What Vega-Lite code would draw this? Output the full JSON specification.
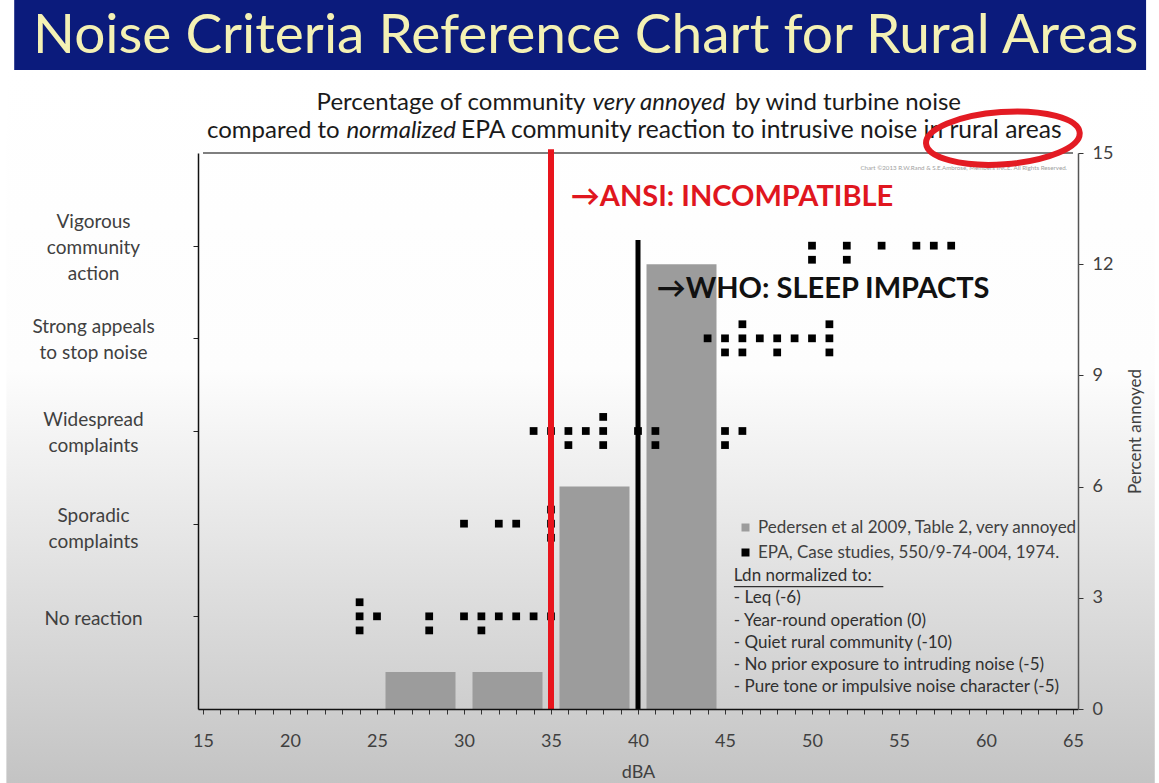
{
  "$schema": "https://vega.github.io/schema/vega-lite/v6.json",
  "width": 880,
  "height": 556,
  "autosize": "none",
  "padding": {"left": 198, "top": 153, "right": 81, "bottom": 74},
  "background": "#ffffff",
  "data": {"values": [{}]},
  "config": {
    "font": "Lato",
    "view": {"stroke": null, "fill": null},
    "axis": {"grid": false, "labelColor": "#404040", "titleColor": "#404040", "labelFont": "Lato", "titleFont": "Lato", "titleFontWeight": "normal"}
  },
  "datasets": {
    "pedersen": [
      {"dBA": 27.5, "percent": 1},
      {"dBA": 32.5, "percent": 1},
      {"dBA": 37.5, "percent": 6},
      {"dBA": 42.5, "percent": 12}
    ],
    "epa": [
      {"dBA": 24, "reaction": 2.88}, {"dBA": 24, "reaction": 2.5}, {"dBA": 24, "reaction": 2.12},
      {"dBA": 25, "reaction": 2.5},
      {"dBA": 28, "reaction": 2.5}, {"dBA": 28, "reaction": 2.12},
      {"dBA": 30, "reaction": 2.5},
      {"dBA": 31, "reaction": 2.5}, {"dBA": 31, "reaction": 2.12},
      {"dBA": 32, "reaction": 2.5}, {"dBA": 33, "reaction": 2.5}, {"dBA": 34, "reaction": 2.5}, {"dBA": 35, "reaction": 2.5},
      {"dBA": 30, "reaction": 5}, {"dBA": 32, "reaction": 5}, {"dBA": 33, "reaction": 5},
      {"dBA": 35, "reaction": 5.38}, {"dBA": 35, "reaction": 5}, {"dBA": 35, "reaction": 4.62},
      {"dBA": 34, "reaction": 7.5}, {"dBA": 35, "reaction": 7.5},
      {"dBA": 36, "reaction": 7.5}, {"dBA": 36, "reaction": 7.12},
      {"dBA": 37, "reaction": 7.5},
      {"dBA": 38, "reaction": 7.88}, {"dBA": 38, "reaction": 7.5}, {"dBA": 38, "reaction": 7.12},
      {"dBA": 40, "reaction": 7.5},
      {"dBA": 41, "reaction": 7.5}, {"dBA": 41, "reaction": 7.12},
      {"dBA": 45, "reaction": 7.5}, {"dBA": 45, "reaction": 7.12},
      {"dBA": 46, "reaction": 7.5},
      {"dBA": 44, "reaction": 10},
      {"dBA": 45, "reaction": 10}, {"dBA": 45, "reaction": 9.62},
      {"dBA": 46, "reaction": 10.38}, {"dBA": 46, "reaction": 10}, {"dBA": 46, "reaction": 9.62},
      {"dBA": 47, "reaction": 10},
      {"dBA": 48, "reaction": 10}, {"dBA": 48, "reaction": 9.62},
      {"dBA": 49, "reaction": 10}, {"dBA": 50, "reaction": 10},
      {"dBA": 51, "reaction": 10.38}, {"dBA": 51, "reaction": 10}, {"dBA": 51, "reaction": 9.62},
      {"dBA": 50, "reaction": 12.5}, {"dBA": 50, "reaction": 12.12},
      {"dBA": 52, "reaction": 12.5}, {"dBA": 52, "reaction": 12.12},
      {"dBA": 54, "reaction": 12.5}, {"dBA": 56, "reaction": 12.5}, {"dBA": 57, "reaction": 12.5}, {"dBA": 58, "reaction": 12.5}
    ]
  },
  "resolve": {"axis": {"y": "independent", "x": "independent"}},
  "layer": [
    {
      "mark": {"type": "rect", "fill": {"x1": 0, "y1": 0, "x2": 0, "y2": 1, "gradient": "linear", "stops": [{"offset": 0, "color": "#ffffff"}, {"offset": 0.42, "color": "#fdfdfd"}, {"offset": 1, "color": "#c3c3c3"}]}, "strokeWidth": 0},
      "encoding": {
        "x": {"datum": 3.7, "type": "quantitative", "scale": {"domain": [15, 65], "nice": false, "zero": false}, "axis": null},
        "x2": {"datum": 69.7},
        "y": {"datum": -2.1, "type": "quantitative", "scale": {"domain": [0, 15], "nice": false, "zero": false}, "axis": null},
        "y2": {"datum": 17.3}
      }
    },
    {
      "mark": {"type": "rect", "fill": "#0b1b7c", "strokeWidth": 0},
      "encoding": {
        "x": {"datum": 4.15, "type": "quantitative", "scale": {"domain": [15, 65]}, "axis": null},
        "x2": {"datum": 69.2},
        "y": {"datum": 17.24, "type": "quantitative", "scale": {"domain": [0, 15]}, "axis": null},
        "y2": {"datum": 19.3}
      }
    },
    {
      "mark": {"type": "text", "text": "Noise Criteria Reference Chart for Rural Areas", "font": "Lato", "fontSize": 55, "color": "#f4f1b4", "align": "center", "baseline": "alphabetic"},
      "encoding": {
        "x": {"datum": 36.99, "type": "quantitative", "scale": {"domain": [15, 65]}, "axis": null},
        "y": {"datum": 17.7, "type": "quantitative", "scale": {"domain": [0, 15]}, "axis": null}
      }
    },
    {
      "mark": {"type": "text", "text": "Percentage of community", "fontSize": 24, "color": "#1a1a1a", "align": "left", "baseline": "alphabetic"},
      "encoding": {
        "x": {"datum": 21.53, "type": "quantitative", "scale": {"domain": [15, 65]}, "axis": null},
        "y": {"datum": 16.16, "type": "quantitative", "scale": {"domain": [0, 15]}, "axis": null}
      }
    },
    {
      "mark": {"type": "text", "text": "very annoyed", "fontSize": 24, "fontStyle": "italic", "color": "#1a1a1a", "align": "left", "baseline": "alphabetic"},
      "encoding": {
        "x": {"datum": 37.39, "type": "quantitative", "scale": {"domain": [15, 65]}, "axis": null},
        "y": {"datum": 16.16, "type": "quantitative", "scale": {"domain": [0, 15]}, "axis": null}
      }
    },
    {
      "mark": {"type": "text", "text": "by wind turbine noise", "fontSize": 24, "color": "#1a1a1a", "align": "left", "baseline": "alphabetic"},
      "encoding": {
        "x": {"datum": 45.57, "type": "quantitative", "scale": {"domain": [15, 65]}, "axis": null},
        "y": {"datum": 16.16, "type": "quantitative", "scale": {"domain": [0, 15]}, "axis": null}
      }
    },
    {
      "mark": {"type": "text", "text": "compared to", "fontSize": 24, "color": "#1a1a1a", "align": "left", "baseline": "alphabetic"},
      "encoding": {
        "x": {"datum": 15.23, "type": "quantitative", "scale": {"domain": [15, 65]}, "axis": null},
        "y": {"datum": 15.4, "type": "quantitative", "scale": {"domain": [0, 15]}, "axis": null}
      }
    },
    {
      "mark": {"type": "text", "text": "normalized", "fontSize": 24, "fontStyle": "italic", "color": "#1a1a1a", "align": "left", "baseline": "alphabetic"},
      "encoding": {
        "x": {"datum": 23.24, "type": "quantitative", "scale": {"domain": [15, 65]}, "axis": null},
        "y": {"datum": 15.4, "type": "quantitative", "scale": {"domain": [0, 15]}, "axis": null}
      }
    },
    {
      "mark": {"type": "text", "text": "EPA community reaction to intrusive noise in rural areas", "fontSize": 24.6, "color": "#1a1a1a", "align": "left", "baseline": "alphabetic"},
      "encoding": {
        "x": {"datum": 29.83, "type": "quantitative", "scale": {"domain": [15, 65]}, "axis": null},
        "y": {"datum": 15.4, "type": "quantitative", "scale": {"domain": [0, 15]}, "axis": null}
      }
    },
    {
      "mark": {"type": "text", "text": "Chart ©2013 R.W.Rand & S.E.Ambrose, Members INCE. All Rights Reserved.", "fontSize": 6.2, "color": "#a0a0a0", "align": "right", "baseline": "middle"},
      "encoding": {
        "x": {"datum": 64.66, "type": "quantitative", "scale": {"domain": [15, 65]}, "axis": null},
        "y": {"datum": 14.59, "type": "quantitative", "scale": {"domain": [0, 15]}, "axis": null}
      }
    },
    {
      "mark": {"type": "rule", "color": "#555555", "strokeWidth": 1.3},
      "encoding": {
        "x": {"datum": 15, "type": "quantitative", "scale": {"domain": [15, 65]}, "axis": null},
        "x2": {"datum": 65},
        "y": {"datum": 15, "type": "quantitative", "scale": {"domain": [0, 15]}, "axis": null}
      }
    },
    {
      "data": {"name": "pedersen"},
      "mark": {"type": "bar", "size": 70, "strokeWidth": 0},
      "encoding": {
        "x": {"field": "dBA", "type": "quantitative", "scale": {"domain": [15, 65], "nice": false, "zero": false},
          "axis": {"zindex": 2, "title": "dBA", "values": [15,16,17,18,19,20,21,22,23,24,25,26,27,28,29,30,31,32,33,34,35,36,37,38,39,40,41,42,43,44,45,46,47,48,49,50,51,52,53,54,55,56,57,58,59,60,61,62,63,64,65],
            "labelExpr": "datum.value % 5 == 0 ? datum.label : ''", "labelOverlap": false, "labelFontSize": 18, "labelPadding": 18, "tickSize": 5, "tickColor": "#333333", "domainColor": "#111111", "domainWidth": 1.5, "titleFontSize": 18, "titlePadding": 13}},
        "y": {"field": "percent", "type": "quantitative", "scale": {"domain": [0, 15], "nice": false, "zero": false},
          "axis": {"zindex": 2, "orient": "right", "title": "Percent annoyed", "titleAngle": -90, "titleBaseline": "top", "values": [0, 3, 6, 9, 12, 15], "labelFontSize": 18, "labelPadding": 9, "tickSize": 5, "tickColor": "#333333", "domainColor": "#555555", "domainWidth": 1.5, "titleFontSize": 17, "titlePadding": 15}},
        "color": {"datum": "Pedersen et al 2009, Table 2, very annoyed",
          "scale": {"domain": ["Pedersen et al 2009, Table 2, very annoyed", "EPA, Case studies, 550/9-74-004, 1974."], "range": ["#9c9c9c", "#000000"]},
          "legend": {"orient": "none", "legendX": 539, "legendY": 366, "title": null, "symbolType": "square", "symbolSize": 64, "symbolStrokeWidth": 0, "labelFontSize": 17, "labelLimit": 400, "labelColor": "#404040", "rowPadding": 7, "padding": 0}}
      }
    },
    {
      "data": {"name": "epa"},
      "mark": {"type": "point", "shape": "square", "filled": true, "size": 60, "opacity": 1},
      "encoding": {
        "x": {"field": "dBA", "type": "quantitative", "scale": {"domain": [15, 65]}, "axis": null},
        "y": {"field": "reaction", "type": "quantitative", "scale": {"domain": [0, 15]},
          "axis": {"zindex": 2, "orient": "left", "title": null, "values": [2.5, 5, 7.5, 10, 12.5],
            "labelExpr": "datum.value == 12.5 ? ['Vigorous','community','action'] : datum.value == 10 ? ['Strong appeals','to stop noise'] : datum.value == 7.5 ? ['Widespread','complaints'] : datum.value == 5 ? ['Sporadic','complaints'] : 'No reaction'",
            "labelAlign": "center", "labelBaseline": "middle", "labelFontSize": 19, "labelLineHeight": 26, "labelPadding": 100, "tickSize": 5, "tickColor": "#222222", "domainColor": "#111111", "domainWidth": 1.5,
            "labelOffset": {"condition": [{"test": "datum.value == 12.5", "value": -24}, {"test": "datum.value == 2.5", "value": 2}, {"test": "datum.value == 5", "value": -8}], "value": -12}}},
        "color": {"datum": "EPA, Case studies, 550/9-74-004, 1974."}
      }
    },
    {
      "mark": {"type": "rule", "color": "#e8141c", "strokeWidth": 6},
      "encoding": {
        "x": {"datum": 35, "type": "quantitative", "scale": {"domain": [15, 65]}, "axis": null},
        "y": {"datum": 0, "type": "quantitative", "scale": {"domain": [0, 15]}, "axis": null},
        "y2": {"datum": 15.1}
      }
    },
    {
      "mark": {"type": "rule", "color": "#000000", "strokeWidth": 5},
      "encoding": {
        "x": {"datum": 40, "type": "quantitative", "scale": {"domain": [15, 65]}, "axis": null},
        "y": {"datum": 0, "type": "quantitative", "scale": {"domain": [0, 15]}, "axis": null},
        "y2": {"datum": 12.65}
      }
    },
    {
      "mark": {"type": "text", "text": "→ANSI: INCOMPATIBLE", "fontSize": 29, "fontWeight": "bold", "color": "#e0161e", "align": "left", "baseline": "middle"},
      "encoding": {
        "x": {"datum": 36.14, "type": "quantitative", "scale": {"domain": [15, 65]}, "axis": null},
        "y": {"datum": 13.81, "type": "quantitative", "scale": {"domain": [0, 15]}, "axis": null}
      }
    },
    {
      "mark": {"type": "text", "text": "→WHO: SLEEP IMPACTS", "fontSize": 29, "fontWeight": "bold", "color": "#111111", "align": "left", "baseline": "middle"},
      "encoding": {
        "x": {"datum": 41.08, "type": "quantitative", "scale": {"domain": [15, 65]}, "axis": null},
        "y": {"datum": 11.33, "type": "quantitative", "scale": {"domain": [0, 15]}, "axis": null}
      }
    },
    {
      "mark": {"type": "text", "text": ["Ldn normalized to:", "- Leq (-6)", "- Year-round operation (0)", "- Quiet rural community (-10)", "- No prior exposure to intruding noise (-5)", "- Pure tone or impulsive noise character (-5)"], "fontSize": 17, "lineHeight": 22.2, "color": "#303030", "align": "left", "baseline": "top"},
      "encoding": {
        "x": {"datum": 45.51, "type": "quantitative", "scale": {"domain": [15, 65]}, "axis": null},
        "y": {"datum": 3.8, "type": "quantitative", "scale": {"domain": [0, 15]}, "axis": null}
      }
    },
    {
      "mark": {"type": "rule", "color": "#303030", "strokeWidth": 1.2},
      "encoding": {
        "x": {"datum": 45.51, "type": "quantitative", "scale": {"domain": [15, 65]}, "axis": null},
        "x2": {"datum": 54.1},
        "y": {"datum": 3.3, "type": "quantitative", "scale": {"domain": [0, 15]}, "axis": null}
      }
    },
    {
      "mark": {"type": "point", "shape": "M -1 0 A 1 0.34 0 1 1 1 0 A 1 0.34 0 1 1 -1 0 Z", "filled": false, "size": 23716, "stroke": "#e31b23", "strokeWidth": 6, "opacity": 1, "angle": -4},
      "encoding": {
        "x": {"datum": 60.97, "type": "quantitative", "scale": {"domain": [15, 65]}, "axis": null},
        "y": {"datum": 15.4, "type": "quantitative", "scale": {"domain": [0, 15]}, "axis": null}
      }
    }
  ]
}
